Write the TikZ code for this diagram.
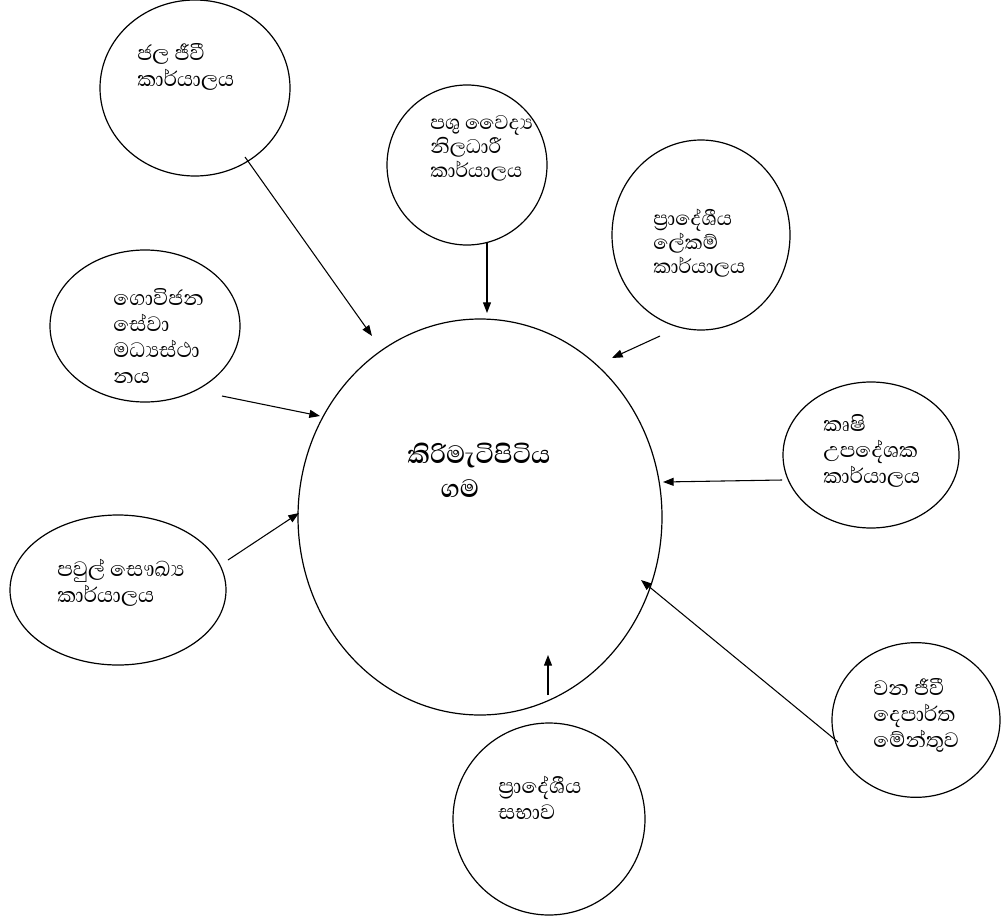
\documentclass[tikz,border=0pt]{standalone}
\usepackage{fontspec}
\newfontfamily\sinhalafont[Script=Sinhala]{Abhaya Libre}
\usetikzlibrary{shapes.geometric,arrows.meta}

\begin{document}
\begin{tikzpicture}[
  x=0.75pt, y=-0.75pt,
  font=\sinhalafont\fontsize{20}{19.5}\selectfont,
  place/.style={draw, ellipse, line width=0.9pt, inner sep=0pt},
  txt/.style={anchor=north west, align=left, inner sep=0pt},
  tight/.style={txt, font=\sinhalafont\fontsize{19}{18}\selectfont},
  arr/.style={-{Triangle[length=8pt,width=6pt]}, line width=0.8pt},
]
\useasboundingbox (0,0) rectangle (1002,920);
% circles
\node[place, minimum width=142.5pt, minimum height=132pt] (jala) at (195,88) {};
\node[place, minimum width=120pt, minimum height=120pt] (pashu) at (467,165) {};
\node[place, minimum width=133.5pt, minimum height=142.5pt] (lekam) at (701,235) {};
\node[place, minimum width=142.5pt, minimum height=114pt] (govi) at (145,326) {};
\node[place, minimum width=273pt, minimum height=297pt] (gama) at (480,517) {};
\node[place, minimum width=132pt, minimum height=109.5pt] (krushi) at (871,455) {};
\node[place, minimum width=162pt, minimum height=112.5pt] (pavul) at (118,590) {};
\node[place, minimum width=144pt, minimum height=144pt] (sabha) at (549,819) {};
\node[place, minimum width=126pt, minimum height=116pt] (vana) at (916,720) {};
% texts
\node[txt] (jala-t) at (137,43) {ජල ජීවී\\කාර්යාලය};
\node[tight] (pashu-t) at (430,115) {පශු වෛද්‍ය\\නිලධාරී\\කාර්යාලය};
\node[tight] (lekam-t) at (653,209) {ප්‍රාදේශීය\\ලේකම්\\කාර්යාලය};
\node[txt] (govi-t) at (113,288) {ගොවිජන\\සේවා\\මධ්‍යස්ථා\\නය};
\node[txt, font=\sinhalafont\bfseries\fontsize{24}{25}\selectfont] (gama-t) at (407,443)
  {කිරිමැටිපිටිය\\\hspace*{25pt}ගම};
\node[txt] (krushi-t) at (823,414) {කෘෂි\\උපදේශක\\කාර්යාලය};
\node[txt] (pavul-t) at (57,559) {පවුල් සෞඛ්‍ය\\කාර්යාලය};
\node[txt] (sabha-t) at (498,776) {ප්‍රාදේශීය\\සභාව};
\node[txt] (vana-t) at (873,678) {වන ජීවී\\දෙපාර්ත\\මේන්තුව};
% arrow ends
\coordinate (jala-a) at (245,157);   \coordinate (gama-a1) at (372,336);
\coordinate (pashu-a) at (487,242);  \coordinate (gama-a2) at (487,313);
\coordinate (lekam-a) at (660,336);  \coordinate (gama-a3) at (612,358);
\coordinate (govi-a) at (222,396);   \coordinate (gama-a4) at (320,416);
\coordinate (krushi-a) at (782,480); \coordinate (gama-a5) at (663,482);
\coordinate (pavul-a) at (228,560);  \coordinate (gama-a6) at (299,513);
\coordinate (sabha-a) at (548,695);  \coordinate (gama-a7) at (548,655);
\coordinate (vana-a) at (838,742);   \coordinate (gama-a8) at (641,580);
\draw[arr] (jala-a) -- (gama-a1);
\draw[arr] (pashu-a) -- (gama-a2);
\draw[arr] (lekam-a) -- (gama-a3);
\draw[arr] (govi-a) -- (gama-a4);
\draw[arr] (krushi-a) -- (gama-a5);
\draw[arr] (pavul-a) -- (gama-a6);
\draw[arr] (sabha-a) -- (gama-a7);
\draw[arr] (vana-a) -- (gama-a8);
\end{tikzpicture}
\end{document}
